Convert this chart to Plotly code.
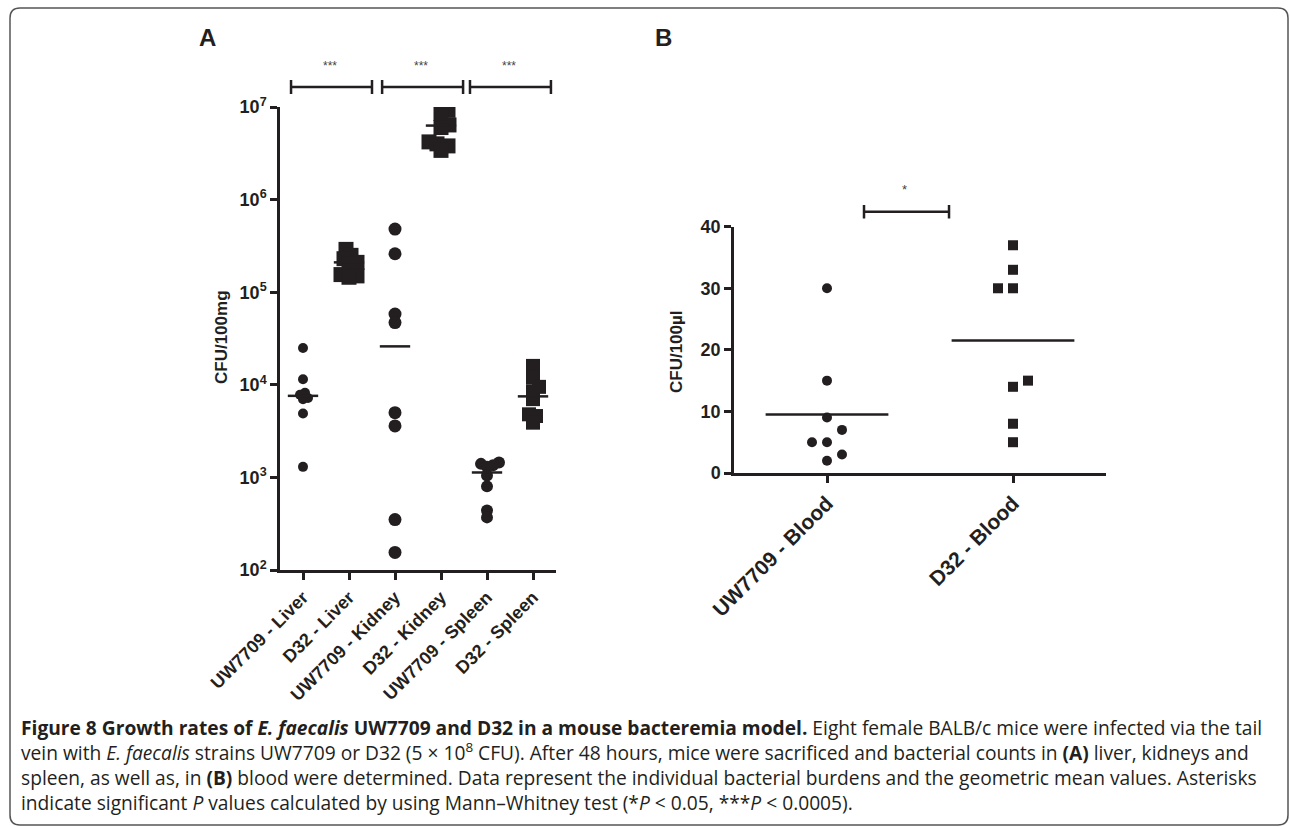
import numpy as np
import plotly.graph_objects as go

W, H = 1290, 827

# ---------------- data ----------------
tissue_cats = ["UW7709 - Liver", "D32 - Liver", "UW7709 - Kidney",
               "D32 - Kidney", "UW7709 - Spleen", "D32 - Spleen"]
uw7709_liver = [2.5e4, 1.15e4, 8.2e3, 7.8e3, 7.2e3, 7.0e3, 4.9e3, 1.3e3]
d32_liver = [2.9e5, 2.5e5, 2.3e5, 2.1e5, 2.0e5, 1.55e5, 1.5e5, 1.45e5]
uw7709_kidney = [4.8e5, 2.6e5, 5.8e4, 4.7e4, 5.0e3, 3.6e3, 3.5e2, 1.55e2]
d32_kidney = [9.2e6, 8.5e6, 6.4e6, 6.0e6, 4.2e6, 4.0e6, 3.8e6, 3.4e6]
uw7709_spleen = [1.45e3, 1.4e3, 1.35e3, 1.3e3, 1.05e3, 8.0e2, 4.4e2, 3.7e2]
d32_spleen = [1.6e4, 1.2e4, 9.5e3, 8.5e3, 7.0e3, 4.8e3, 4.6e3, 3.9e3]
tissue_geo_means = [7.6e3, 2.1e5, 2.6e4, 6.3e6, 1.13e3, 7.5e3]
tissue_ticks = [1e2, 1e3, 1e4, 1e5, 1e6, 1e7]
tissue_tick_labels = ["10<sup>2</sup>", "10<sup>3</sup>", "10<sup>4</sup>",
                      "10<sup>5</sup>", "10<sup>6</sup>", "10<sup>7</sup>"]
tissue_sig = ["***", "***", "***"]

blood_cats = ["UW7709 - Blood", "D32 - Blood"]
uw7709_blood = [30, 15, 9, 7, 5, 5, 3, 2]
d32_blood = [37, 33, 30, 30, 15, 14, 8, 5]
blood_geo_means = [9.5, 21.5]
blood_ticks = [0, 10, 20, 30, 40]
blood_sig = ["*"]

# ---------------- styles / layout constants ----------------
INK = "#231f20"
A_dom = (280, 556, 107, 570)   # px: left, right, top, bottom
B_dom = (734, 1106, 226.7, 473)
tissue_sizes = [10, 15, 13, 15, 12, 14]
tissue_symbols = ["circle", "square", "circle", "square", "circle", "square"]
blood_sizes = [10, 10]
blood_symbols = ["circle", "square"]


def px2fx(px):
    return px / W


def px2fy(py):
    return 1 - py / H


def swarm(ypx, D, step):
    placed = []
    offs = [0.0] * len(ypx)
    for i in np.argsort(ypx):
        y = ypx[i]
        nr = sum(1 for x, _ in placed if x > 0)
        nl = sum(1 for x, _ in placed if x < 0)
        pref = 1 if nr <= nl else -1
        k = 0
        found = None
        while found is None:
            cands = [0.0] if k == 0 else [pref * k * step, -pref * k * step]
            for c in cands:
                if all((c - x) ** 2 + (y - yy) ** 2 >= D * D for x, yy in placed):
                    found = c
                    break
            k += 1
        placed.append((found, y))
        offs[i] = found
    return offs


fig = go.Figure()

# ---------- panel A ----------
tissue_groups = [uw7709_liver, d32_liver, uw7709_kidney, d32_kidney,
                 uw7709_spleen, d32_spleen]
a_cat_px = (A_dom[1] - A_dom[0]) / 6.0
a_dec_px = (A_dom[3] - A_dom[2]) / 5.0
for i, vals in enumerate(tissue_groups):
    ypx = [np.log10(v) * a_dec_px for v in vals]
    offs = swarm(ypx, 0.5 * tissue_sizes[i], 1.0)
    fig.add_trace(go.Scatter(
        x=[i + o / a_cat_px for o in offs], y=vals, mode="markers",
        marker=dict(symbol=tissue_symbols[i], size=tissue_sizes[i], color=INK,
                    line=dict(width=0)),
        xaxis="x", yaxis="y", showlegend=False, hoverinfo="y"))
    m = tissue_geo_means[i]
    fig.add_trace(go.Scatter(
        x=[i - 0.33, i + 0.33], y=[m, m], mode="lines",
        line=dict(color=INK, width=2.5), xaxis="x", yaxis="y",
        showlegend=False, hoverinfo="skip"))

# ---------- panel B ----------
blood_groups = [uw7709_blood, d32_blood]
b_cat_px = (B_dom[1] - B_dom[0]) / 2.0
b_unit_px = (B_dom[3] - B_dom[2]) / 40.0
for i, vals in enumerate(blood_groups):
    ypx = [v * b_unit_px for v in vals]
    offs = swarm(ypx, 13, 15)
    fig.add_trace(go.Scatter(
        x=[i + o / b_cat_px for o in offs], y=vals, mode="markers",
        marker=dict(symbol=blood_symbols[i], size=blood_sizes[i], color=INK,
                    line=dict(width=0)),
        xaxis="x2", yaxis="y2", showlegend=False, hoverinfo="y"))
    m = blood_geo_means[i]
    fig.add_trace(go.Scatter(
        x=[i - 0.33, i + 0.33], y=[m, m], mode="lines",
        line=dict(color=INK, width=2.5), xaxis="x2", yaxis="y2",
        showlegend=False, hoverinfo="skip"))

tickfont = dict(family="Liberation Sans, Arial, sans-serif", color=INK, weight=700)
axis_common = dict(showline=True, linecolor=INK, linewidth=2.5, ticks="outside",
                   ticklen=7, tickwidth=2.5, tickcolor=INK, showgrid=False,
                   zeroline=False, fixedrange=True, automargin=False)

fig.update_layout(
    width=W, height=H, margin=dict(l=0, r=0, t=0, b=0, autoexpand=False),
    paper_bgcolor="white", plot_bgcolor="white",
    xaxis=dict(domain=[px2fx(A_dom[0]), px2fx(A_dom[1])], range=[-0.5, 5.5],
               tickvals=list(range(6)), ticktext=tissue_cats, tickangle=-45,
               tickfont=dict(size=18, **tickfont), anchor="y", **axis_common),
    yaxis=dict(domain=[px2fy(A_dom[3]), px2fy(A_dom[2])], type="log",
               range=[2, 7], tickvals=tissue_ticks, ticktext=tissue_tick_labels,
               tickfont=dict(size=18, **tickfont), anchor="x", **axis_common),
    xaxis2=dict(domain=[px2fx(B_dom[0]), px2fx(B_dom[1])], range=[-0.5, 1.5],
                tickvals=[0, 1], ticktext=blood_cats, tickangle=-45,
                tickfont=dict(size=21, **tickfont), anchor="y2", **axis_common),
    yaxis2=dict(domain=[px2fy(B_dom[3]), px2fy(B_dom[2])], range=[0, 40],
                tickvals=blood_ticks, tickfont=dict(size=18, **tickfont),
                anchor="x2", **axis_common),
)

shapes = []
annotations = []


def note(x, y, text, size, xref="paper", yref="paper", color=INK,
         family="Liberation Sans", angle=0, xanchor="center", yanchor="middle"):
    annotations.append(dict(x=x, y=y, xref=xref, yref=yref, text=text,
                            showarrow=False, textangle=angle, xanchor=xanchor,
                            yanchor=yanchor, align="left",
                            font=dict(family=family, size=size, color=color)))


# significance bars panel A (x in category units, y in page position)
a_spans = [(-0.26, 1.5), (1.72, 3.48), (3.63, 5.39)]
ybar, yt0, yt1 = px2fy(87), px2fy(80), px2fy(94)
for (x0, x1), lab in zip(a_spans, tissue_sig):
    for seg in [(x0, ybar, x1, ybar), (x0, yt0, x0, yt1), (x1, yt0, x1, yt1)]:
        shapes.append(dict(type="line", xref="x", yref="paper",
                           x0=seg[0], y0=seg[1], x1=seg[2], y1=seg[3],
                           line=dict(color=INK, width=2.5)))
    note((x0 + x1) / 2 - 0.03, px2fy(66), lab, 12, xref="x", color="#444")

# significance bar panel B
b_span = (0.199, 0.656)
ybar, yt0, yt1 = px2fy(211.7), px2fy(205), px2fy(218.5)
x0, x1 = b_span
for seg in [(x0, ybar, x1, ybar), (x0, yt0, x0, yt1), (x1, yt0, x1, yt1)]:
    shapes.append(dict(type="line", xref="x2", yref="paper",
                       x0=seg[0], y0=seg[1], x1=seg[2], y1=seg[3],
                       line=dict(color=INK, width=2.5)))
note((x0 + x1) / 2 - 0.01, px2fy(190), blood_sig[0], 13, xref="x2", color="#444")

# axis titles
note(px2fx(221), px2fy(337), "<b>CFU/100mg</b>", 17, angle=-90)
note(px2fx(676), px2fy(352), "<b>CFU/100µl</b>", 17, angle=-90)

# panel letters
note(px2fx(207), px2fy(38), "<b>A</b>", 24)
note(px2fx(663), px2fy(38), "<b>B</b>", 24)

# caption (one text block, lines broken as in the reference)
caption_lines = [
    "<b>Figure 8 Growth rates of <i>E. faecalis</i> UW7709 and D32 in a mouse "
    "bacteremia model.</b> Eight female BALB/c mice were infected via the tail",
    "vein with <i>E. faecalis</i> strains UW7709 or D32 (5 × 10<sup>8</sup> CFU). "
    "After 48 hours, mice were sacrificed and bacterial counts in <b>(A)</b> "
    "liver, kidneys and",
    "spleen, as well as, in <b>(B)</b> blood were determined. Data represent the "
    "individual bacterial burdens and the geometric mean values. Asterisks",
    "indicate significant <i>P</i> values calculated by using Mann–Whitney test "
    "(*<i>P</i> &lt; 0.05, ***<i>P</i> &lt; 0.0005).",
]
note(px2fx(19), px2fy(765), "<br>".join(caption_lines), 19.2,
     family="Open Sans", xanchor="left")

# rounded frame
bx0, bx1, by0, by1, r = 10, 1288, 8, 825, 10
fx = px2fx
fy = px2fy
path = (f"M {fx(bx0 + r)},{fy(by0)} L {fx(bx1 - r)},{fy(by0)} "
        f"Q {fx(bx1)},{fy(by0)} {fx(bx1)},{fy(by0 + r)} "
        f"L {fx(bx1)},{fy(by1 - r)} Q {fx(bx1)},{fy(by1)} {fx(bx1 - r)},{fy(by1)} "
        f"L {fx(bx0 + r)},{fy(by1)} Q {fx(bx0)},{fy(by1)} {fx(bx0)},{fy(by1 - r)} "
        f"L {fx(bx0)},{fy(by0 + r)} Q {fx(bx0)},{fy(by0)} {fx(bx0 + r)},{fy(by0)} Z")
shapes.append(dict(type="path", xref="paper", yref="paper", path=path,
                   line=dict(color="#555", width=1.5)))

fig.update_layout(shapes=shapes, annotations=annotations)
fig.write_html("out.html", config={"displayModeBar": False},
               post_script="document.body.style.margin='0px';"
                           "document.body.style.overflow='hidden';")
